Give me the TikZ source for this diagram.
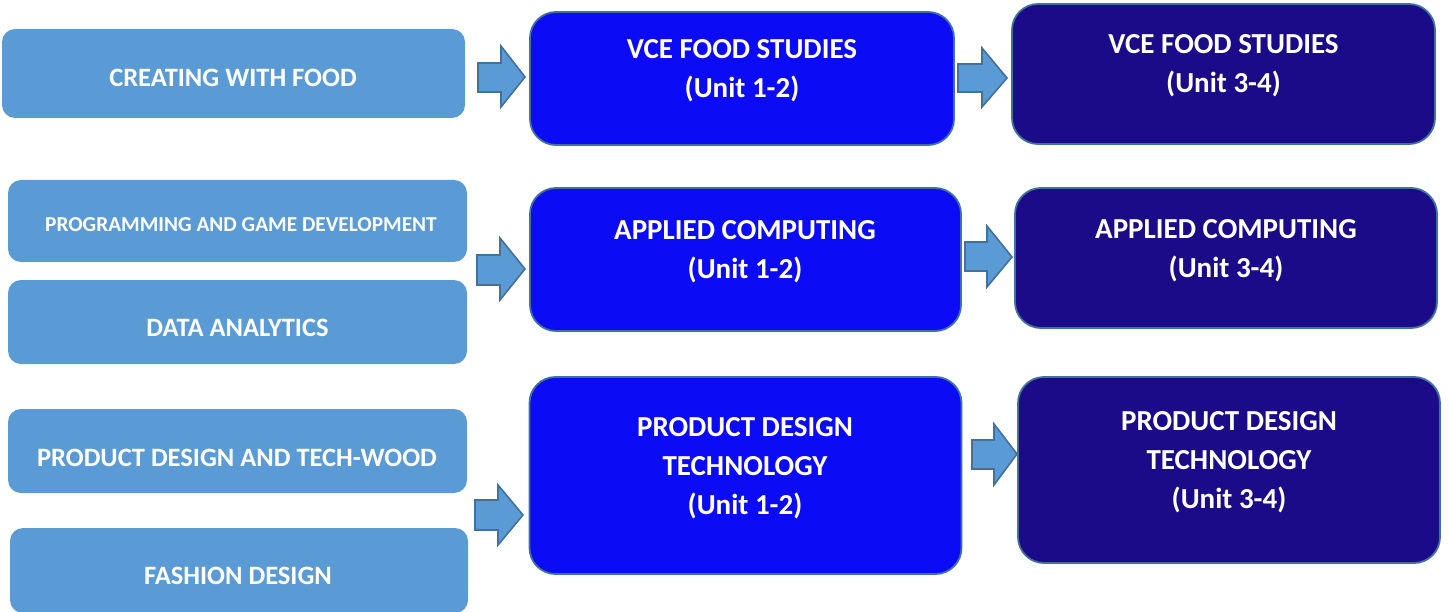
\documentclass[tikz,border=0pt]{standalone}
\usepackage{fontspec}
\setmainfont{Carlito}
\definecolor{lblue}{HTML}{5B9BD5}
\definecolor{edge}{HTML}{41719C}
\definecolor{mblue}{HTML}{0B0BF6}
\definecolor{dblue}{HTML}{1C0B88}
\tikzset{
  lbox/.style={rectangle, rounded corners=13pt, fill=lblue, draw=none, inner sep=0pt},
  mbox/.style={rectangle, rounded corners=26pt, fill=mblue, draw=edge, line width=1.8pt, inner sep=0pt},
  rbox/.style={rectangle, rounded corners=26pt, fill=dblue, draw=edge, line width=1.8pt, inner sep=0pt},
  ltxt/.style={text=white, font=\fontsize{26.5}{32}\selectfont\bfseries, inner sep=0pt, anchor=base},
  stxt/.style={text=white, font=\fontsize{21.3}{26}\selectfont\bfseries, inner sep=0pt, anchor=base},
  btxt/.style={text=white, font=\fontsize{29}{39}\selectfont\bfseries, inner sep=0pt, align=center, anchor=base},
  arr/.style={fill=lblue, draw=edge, line width=1.6pt, line join=miter},
}
\newcommand\blockarrow[8]{\draw[arr] (#1,#4) -- (#2,#4) -- (#2,#6) -- (#3,#8) -- (#2,#7) -- (#2,#5) -- (#1,#5) -- cycle;}
\begin{document}
\begin{tikzpicture}[x=1pt,y=-1pt]
\useasboundingbox (0,0) rectangle (1450,612);
% left boxes
\node[lbox, minimum width=463, minimum height=89] (L1) at (233.5,73.5) {};
\node[lbox, minimum width=459, minimum height=82] (L2) at (237.5,221) {};
\node[lbox, minimum width=459, minimum height=84] (L3) at (237.5,322) {};
\node[lbox, minimum width=459, minimum height=84] (L4) at (237.5,451) {};
\node[lbox, minimum width=458, minimum height=85] (L5) at (239,570.5) {};
% middle boxes
\node[mbox, minimum width=424, minimum height=133] (M1) at (742,78.5) {};
\node[mbox, minimum width=431, minimum height=143] (M2) at (745.5,259.5) {};
\node[mbox, minimum width=432, minimum height=197] (M3) at (745.5,475.5) {};
% right boxes
\node[rbox, minimum width=423, minimum height=140] (R1) at (1223.5,74) {};
\node[rbox, minimum width=422, minimum height=140] (R2) at (1226,258) {};
\node[rbox, minimum width=422, minimum height=186] (R3) at (1229,470) {};
% texts
\node[ltxt] (T1) at (233,87) {CREATING WITH FOOD};
\node[stxt] (T2) at (241,231.5) {PROGRAMMING AND GAME DEVELOPMENT};
\node[ltxt] (T3) at (237.5,336) {DATA ANALYTICS};
\node[ltxt] (T4) at (237,466) {PRODUCT DESIGN AND TECH-WOOD};
\node[ltxt] (T5) at (238,584) {FASHION DESIGN};
\node[btxt] (TM1) at (742,98) {VCE FOOD STUDIES\\(Unit 1-2)};
\node[btxt] (TR1) at (1223.5,93) {VCE FOOD STUDIES\\(Unit 3-4)};
\node[btxt] (TM2) at (745,278) {APPLIED COMPUTING\\(Unit 1-2)};
\node[btxt] (TR2) at (1226,277) {APPLIED COMPUTING\\(Unit 3-4)};
\node[btxt] (TM3) at (745,514) {PRODUCT DESIGN\\TECHNOLOGY\\(Unit 1-2)};
\node[btxt] (TR3) at (1229,508) {PRODUCT DESIGN\\TECHNOLOGY\\(Unit 3-4)};
% arrows
\blockarrow{478}{501}{525}{63}{92}{46}{107}{77}
\blockarrow{958}{982}{1007}{64}{92}{48}{107}{78}
\blockarrow{477}{500}{525}{255}{285}{238}{300}{269}
\blockarrow{965}{987}{1012}{242}{271}{226}{287}{257}
\blockarrow{475}{498}{523}{500}{530}{485}{545}{515}
\blockarrow{972}{994}{1017}{440}{469}{424}{485}{454}
\end{tikzpicture}
\end{document}
